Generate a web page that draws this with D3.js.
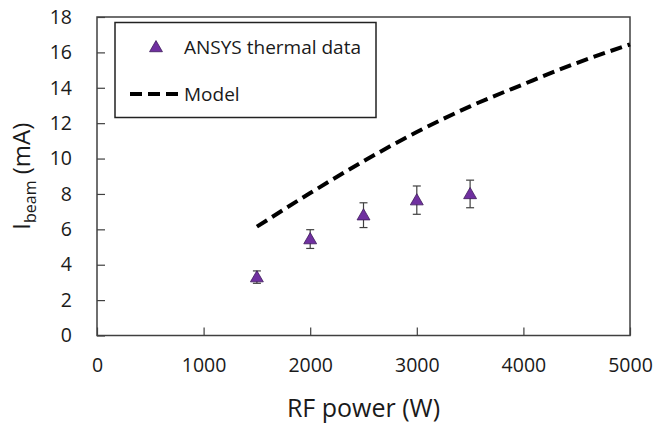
<!DOCTYPE html>
<html>
<head>
<meta charset="utf-8">
<title>Beam current vs RF power</title>
<script src="https://cdn.jsdelivr.net/npm/d3@7"></script>
<style>
body { margin: 0; padding: 0; background: #fff; font-family: "Open Sans", sans-serif; }
</style>
</head>
<body>
<div id="chart"></div>
<script>

// ANSYS thermal simulation points
var powerPts = [1500, 2000, 2500, 3000, 3500];
var beamPts = [3.3, 5.45, 6.8, 7.65, 8.0];
var beamErr = [0.35, 0.53, 0.7, 0.8, 0.78];

// model curve
var modelPower = [1500, 2000, 2500, 3000, 3500, 4000, 4500, 5000];
var modelBeam = [6.15, 8.05, 9.85, 11.5, 12.95, 14.2, 15.4, 16.45];

var xTicks = [0, 1000, 2000, 3000, 4000, 5000];
var yTicks = [0, 2, 4, 6, 8, 10, 12, 14, 16, 18];

var width = 672, height = 426;
var margin = {top: 17, right: 42, bottom: 90.5, left: 97};
var axisCol = '#404040';

var svg = d3.select('#chart').append('svg')
    .attr('width', width)
    .attr('height', height);

var x = d3.scaleLinear().domain([0, 5000]).range([margin.left, width - margin.right]);
var y = d3.scaleLinear().domain([0, 18]).range([height - margin.bottom, margin.top]);

// frame
svg.append('rect')
    .attr('x', x(0)).attr('y', y(18))
    .attr('width', x(5000) - x(0)).attr('height', y(0) - y(18))
    .attr('fill', 'none').attr('stroke', axisCol).attr('stroke-width', 1.5);

// axes with inward ticks
var xAxis = svg.append('g')
    .attr('transform', 'translate(0,' + y(0) + ')')
    .call(d3.axisBottom(x).tickValues(xTicks).tickSize(-8).tickPadding(23).tickFormat(d3.format('d')));
var yAxis = svg.append('g')
    .attr('transform', 'translate(' + x(0) + ',0)')
    .call(d3.axisLeft(y).tickValues(yTicks).tickSize(-8).tickPadding(25));

[xAxis, yAxis].forEach(function(a) {
  a.select('.domain').remove();
  a.selectAll('line').attr('stroke', axisCol).attr('stroke-width', 1.2);
  a.selectAll('text').attr('font-family', '"Open Sans", sans-serif')
    .attr('font-size', 19.5).attr('fill', '#1a1a1a');
});

// model line
var line = d3.line()
    .x(function(d, i) { return x(modelPower[i]); })
    .y(function(d) { return y(d); })
    .curve(d3.curveMonotoneX);

svg.append('path')
    .datum(modelBeam)
    .attr('d', line)
    .attr('fill', 'none')
    .attr('stroke', '#000')
    .attr('stroke-width', 4)
    .attr('stroke-dasharray', '12,6');

// error bars
var eb = svg.append('g').attr('stroke', axisCol).attr('stroke-width', 1.2);
powerPts.forEach(function(p, i) {
  var cx = x(p);
  var top = y(beamPts[i] + beamErr[i]), bot = y(beamPts[i] - beamErr[i]);
  eb.append('line').attr('x1', cx).attr('x2', cx).attr('y1', top).attr('y2', bot);
  eb.append('line').attr('x1', cx - 4).attr('x2', cx + 4).attr('y1', top).attr('y2', top);
  eb.append('line').attr('x1', cx - 4).attr('x2', cx + 4).attr('y1', bot).attr('y2', bot);
});

// triangle markers
var tri = d3.symbol().type(d3.symbolTriangle).size(72);
svg.selectAll('.pt')
    .data(beamPts)
    .enter().append('path')
    .attr('class', 'pt')
    .attr('d', tri)
    .attr('transform', function(d, i) { return 'translate(' + x(powerPts[i]) + ',' + (y(d) + 1) + ')'; })
    .attr('fill', '#7030a0')
    .attr('stroke', '#3d1a5a')
    .attr('stroke-width', 0.8);

// legend
var lg = svg.append('g');
lg.append('rect')
    .attr('x', 115).attr('y', 22.5).attr('width', 261).attr('height', 95)
    .attr('fill', '#fff').attr('stroke', '#222').attr('stroke-width', 1.5);
lg.append('path')
    .attr('d', tri)
    .attr('transform', 'translate(156,48)')
    .attr('fill', '#7030a0').attr('stroke', '#3d1a5a').attr('stroke-width', 0.8);
lg.append('text')
    .attr('x', 184).attr('y', 54)
    .attr('font-size', 19).attr('fill', '#1a1a1a')
    .text('ANSYS thermal data');
lg.append('line')
    .attr('x1', 130).attr('x2', 178).attr('y1', 94).attr('y2', 94)
    .attr('stroke', '#000').attr('stroke-width', 4).attr('stroke-dasharray', '12,6');
lg.append('text')
    .attr('x', 184).attr('y', 101)
    .attr('font-size', 19).attr('fill', '#1a1a1a')
    .text('Model');

// axis titles
svg.append('text')
    .attr('x', (x(0) + x(5000)) / 2).attr('y', 417)
    .attr('text-anchor', 'middle')
    .attr('font-size', 25).attr('fill', '#1a1a1a')
    .text('RF power (W)');

var yt = svg.append('text')
    .attr('transform', 'translate(30,' + ((y(0) + y(18)) / 2) + ') rotate(-90)')
    .attr('text-anchor', 'middle')
    .attr('font-size', 24).attr('fill', '#1a1a1a');
yt.append('tspan').text('I');
yt.append('tspan').attr('font-size', 16).attr('dy', 6).text('beam');
yt.append('tspan').attr('dy', -6).text(' (mA)');

</script>
</body>
</html>
